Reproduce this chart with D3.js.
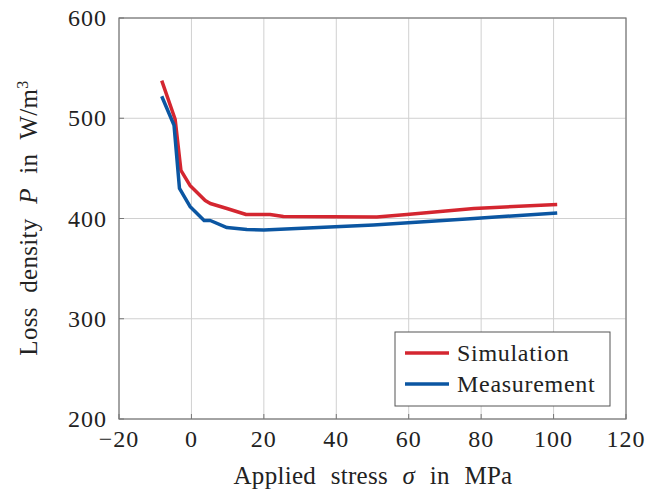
<!DOCTYPE html>
<html>
<head>
<meta charset="utf-8">
<script src="https://cdn.jsdelivr.net/npm/d3@7"></script>
<style>
  body { margin: 0; background: #fff; }
  svg text { font-family: "Liberation Serif", "DejaVu Serif", serif; fill: #222; }
  .grid line { stroke: #d0d0d0; stroke-width: 1; }
  .tick-label { font-size: 24px; letter-spacing: 1px; }
  .axis-label { font-size: 25px; letter-spacing: 0.3px; word-spacing: 8px; }
  .legend-text { font-size: 24px; letter-spacing: 0.7px; }
</style>
</head>
<body>
<div id="chart"></div>
<script>
var width = 661;
var height = 491;
var margin = {left: 119, right: 661 - 626, top: 18, bottom: 491 - 419};

var COLOR_SIM = '#d42630';  // red
var COLOR_MEAS = '#0b56a2'; // blue

// data
var simStress = [-8.2, -4.5, -2.9, -0.4, 3.8, 5.2, 9.8, 15.1, 21.7, 25.4, 51.2, 59.5, 68.7, 78, 101];
var simLoss   = [537.5, 499, 448, 433, 418, 415, 410, 404, 404, 402, 401.5, 404, 407, 410, 414];
var measStress = [-8.2, -4.8, -3.3, -0.4, 3.5, 5.2, 9.8, 15.3, 20, 50.3, 78, 101];
var measLoss   = [522, 493, 430, 412, 398, 398, 391, 389, 388.5, 393.5, 400, 405.5];

var xTicks = [-20, 0, 20, 40, 60, 80, 100, 120];
var yTicks = [200, 300, 400, 500, 600];
var legendNames = ['Simulation', 'Measurement'];

var svg = d3.select('#chart').append('svg')
    .attr('width', width)
    .attr('height', height);

var x = d3.scaleLinear().domain([-20, 120]).range([margin.left, width - margin.right]);
var y = d3.scaleLinear().domain([200, 600]).range([height - margin.bottom, margin.top]);

// grid
var grid = svg.append('g').attr('class', 'grid');
grid.selectAll('.gx').data(xTicks).enter().append('line')
    .attr('x1', function (d) { return x(d); })
    .attr('x2', function (d) { return x(d); })
    .attr('y1', y(200)).attr('y2', y(600));
grid.selectAll('.gy').data(yTicks).enter().append('line')
    .attr('x1', x(-20)).attr('x2', x(120))
    .attr('y1', function (d) { return y(d); })
    .attr('y2', function (d) { return y(d); });

// frame
svg.append('rect')
    .attr('x', x(-20)).attr('y', y(600))
    .attr('width', x(120) - x(-20)).attr('height', y(200) - y(600))
    .attr('fill', 'none').attr('stroke', '#777').attr('stroke-width', 1.2);

// tick marks (inside)
svg.selectAll('.tx').data(xTicks).enter().append('line')
    .attr('x1', function (d) { return x(d); })
    .attr('x2', function (d) { return x(d); })
    .attr('y1', y(200)).attr('y2', y(200) - 5)
    .attr('stroke', '#777');
svg.selectAll('.ty').data(yTicks).enter().append('line')
    .attr('x1', x(-20)).attr('x2', x(-20) + 5)
    .attr('y1', function (d) { return y(d); })
    .attr('y2', function (d) { return y(d); })
    .attr('stroke', '#777');

// tick labels
svg.selectAll('.lx').data(xTicks).enter().append('text')
    .attr('class', 'tick-label')
    .attr('x', function (d) { return x(d); })
    .attr('y', 447)
    .attr('text-anchor', 'middle')
    .text(function (d) { return d < 0 ? '\u2212' + Math.abs(d) : d; });
svg.selectAll('.ly').data(yTicks).enter().append('text')
    .attr('class', 'tick-label')
    .attr('x', 107)
    .attr('y', function (d) { return y(d) + 8; })
    .attr('text-anchor', 'end')
    .text(function (d) { return d; });

// axis labels
var xl = svg.append('text').attr('class', 'axis-label')
    .attr('x', 373).attr('y', 484).attr('text-anchor', 'middle');
xl.append('tspan').text('Applied stress ');
xl.append('tspan').style('font-style', 'italic').text('\u03c3');
xl.append('tspan').text(' in MPa');

var yl = svg.append('text').attr('class', 'axis-label')
    .attr('transform', 'translate(37,218) rotate(-90)')
    .attr('text-anchor', 'middle');
yl.append('tspan').text('Loss density ');
yl.append('tspan').style('font-style', 'italic').text('P');
yl.append('tspan').text(' in W/m');
yl.append('tspan').attr('dy', -9).style('font-size', '16px').text('3');

// lines
var line = d3.line()
    .x(function (d) { return x(d[0]); })
    .y(function (d) { return y(d[1]); });

svg.append('path')
    .datum(d3.zip(simStress, simLoss))
    .attr('fill', 'none').attr('stroke', COLOR_SIM)
    .attr('stroke-width', 3.5).attr('stroke-linejoin', 'round')
    .attr('d', line);
svg.append('path')
    .datum(d3.zip(measStress, measLoss))
    .attr('fill', 'none').attr('stroke', COLOR_MEAS)
    .attr('stroke-width', 3.5).attr('stroke-linejoin', 'round')
    .attr('d', line);

// legend
var lg = svg.append('g');
lg.append('rect')
    .attr('x', 395).attr('y', 332).attr('width', 215).attr('height', 74)
    .attr('fill', '#fff').attr('stroke', '#555').attr('stroke-width', 1);
var colors = [COLOR_SIM, COLOR_MEAS];
legendNames.forEach(function (name, i) {
    var ly = 353 + i * 31;
    lg.append('line')
        .attr('x1', 405).attr('x2', 449)
        .attr('y1', ly).attr('y2', ly)
        .attr('stroke', colors[i]).attr('stroke-width', 3.5);
    lg.append('text').attr('class', 'legend-text')
        .attr('x', 457).attr('y', ly + 8)
        .text(name);
});
</script>
</body>
</html>
